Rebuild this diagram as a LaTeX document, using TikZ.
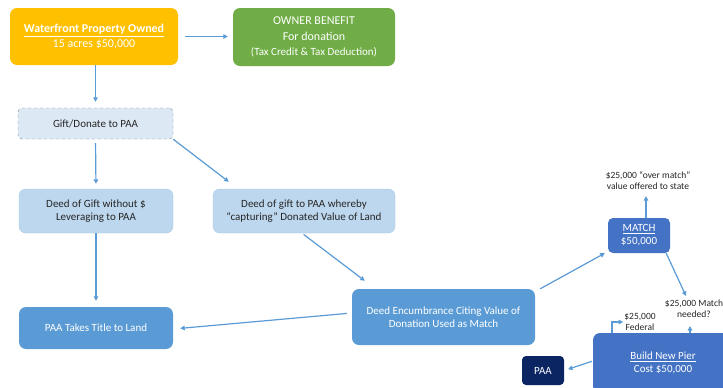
\documentclass[tikz,border=0pt]{standalone}
\usepackage{fontspec}
\setmainfont{Carlito}
\usetikzlibrary{arrows.meta}
\definecolor{gold}{HTML}{FFC000}
\definecolor{leaf}{HTML}{70AD47}
\definecolor{pale}{HTML}{DDE8F5}
\definecolor{light}{HTML}{BDD7EE}
\definecolor{mid}{HTML}{5B9BD5}
\definecolor{deep}{HTML}{4472C4}
\definecolor{navy}{HTML}{0B2563}
\definecolor{ink}{HTML}{262626}

\begin{document}
\begin{tikzpicture}[x=1pt,y=-1pt,
  box/.style={rounded corners=7pt, align=center, inner sep=0pt, font=\fontsize{11}{13}\selectfont},
  lightbox/.style={box, fill=light, draw=light!75!mid, text=ink},
  midbox/.style={box, fill=mid, text=white},
  deepbox/.style={box, fill=deep, text=white},
  note/.style={align=center, inner sep=1pt, font=\fontsize{9.5}{11}\selectfont, text=ink},
  arr/.style={-{Triangle[length=4.5pt,width=4.5pt]}, draw=mid, line width=1.2pt}]

  \clip (0,0) rectangle (723,388);
  \fill[white] (0,0) rectangle (723,388);

  % top row
  \node[box, fill=gold, text=white, minimum width=168pt, minimum height=57pt,
        font=\fontsize{12}{15}\selectfont] (water) at (94,36.5)
    {\textbf{\underline{Waterfront Property Owned}}\\15 acres \$50,000};
  \node[box, fill=leaf, text=white, minimum width=162pt, minimum height=58pt,
        font=\fontsize{12}{15.5}\selectfont] (owner) at (314,37)
    {OWNER BENEFIT\\For donation\\{\fontsize{11}{13}\selectfont(Tax Credit \& Tax Deduction)}};

  % gift and deeds
  \node[box, fill=pale, draw=gray!70!mid, dashed, rounded corners=4pt, text=ink,
        minimum width=155pt, minimum height=31pt] (gift) at (95.5,123.5) {Gift/Donate to PAA};
  \node[lightbox, minimum width=154pt, minimum height=44pt] (deedA) at (96,211)
    {Deed of Gift without \$\\Leveraging to PAA};
  \node[lightbox, minimum width=182pt, minimum height=44pt] (deedB) at (304,211)
    {Deed of gift to PAA whereby\\``capturing'' Donated Value of Land};
  \node[midbox, minimum width=154pt, minimum height=42pt] (title) at (96,328)
    {PAA Takes Title to Land};
  \node[midbox, minimum width=183pt, minimum height=56pt] (encumb) at (443.5,317)
    {Deed Encumbrance Citing Value of\\Donation Used as Match};

  % match and pier
  \node[deepbox, rounded corners=5pt, minimum width=62pt, minimum height=35pt] (match) at (639,235.5)
    {\underline{MATCH}\\\$50,000};
  \node[deepbox, minimum width=140pt, minimum height=60pt] (pier) at (663,363)
    {\underline{Build New Pier}\\Cost \$50,000};
  \node[box, fill=navy, text=white, rounded corners=4pt, minimum width=42pt, minimum height=29pt] (paa) at (543,370.5) {PAA};

  \node[note] (overmatch) at (648,181) {\$25,000 ``over match''\\value offered to state};
  \node[note] (needed) at (694,309) {\$25,000 Match\\needed?};
  \node[note] (federal) at (640,322) {\$25,000\\Federal};

  \coordinate (mtop) at ([xshift=7pt]match.north);
  \coordinate (ptop) at ([xshift=27pt]pier.north);

  % arrows
  \draw[arr, shorten <=7pt, shorten >=5pt] (water.east) -- (water.east -| owner.west);
  \draw[arr, shorten >=6pt] (gift.north |- water.south) -- (gift.north);
  \draw[arr, shorten <=4pt, shorten >=5pt] (gift.south) -- (deedA.north);
  \draw[arr] (gift.south east) -- ([xshift=16pt,yshift=7pt]deedB.north west);
  \draw[arr, shorten >=6pt] (deedA.south) -- (title.north);
  \draw[arr, shorten <=2pt] ([xshift=-2pt]deedB.south) -- ([xshift=13pt,yshift=8pt]encumb.north west);
  \draw[arr, shorten <=5pt, shorten >=7pt] ([yshift=4pt]encumb.west) -- ([yshift=-1pt]title.east);
  \draw[arr] ([xshift=5pt]encumb.north east) -- ([xshift=-3pt]match.south west);
  \draw[arr, shorten >=5pt] (mtop) -- (mtop |- overmatch.south);
  \draw[arr] ([xshift=-4pt]match.south east) -- ([xshift=-8pt,yshift=3pt]needed.north);
  \draw[arr, shorten >=7pt] (ptop) -- (ptop |- needed.south);
  \draw[arr] ([xshift=-51pt]pier.north) |- (federal.west);
  \draw[arr, shorten <=1pt, shorten >=4pt] ([yshift=2pt]pier.west) -- (paa.east);
\end{tikzpicture}
\end{document}
